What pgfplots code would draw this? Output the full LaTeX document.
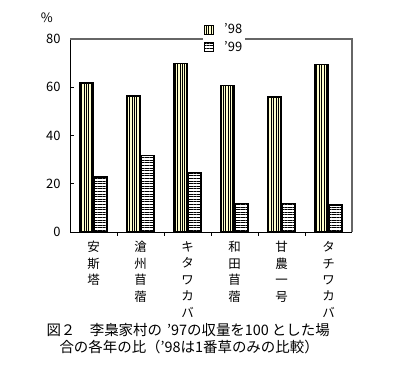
\documentclass[border=0pt]{standalone}
\usepackage{fontspec}
\setmainfont{Noto Sans CJK JP}
\usepackage{pgfplots}
\pgfplotsset{compat=1.18}
\usetikzlibrary{patterns.meta}
\definecolor{cream}{HTML}{FFFFCC}
\begin{document}
\begin{tikzpicture}
\useasboundingbox (0,0) rectangle (401bp,376bp);
\begin{axis}[
  at={(70bp,144bp)}, anchor=south west,
  scale only axis, width=282bp, height=193bp,
  xmin=0.5, xmax=6.5, ymin=0, ymax=80,
  ytick={0,20,40,60,80},
  xtick={1,...,6},
  xticklabels={{安\\斯\\塔},{滄\\州\\苜\\蓿},{キ\\タ\\ワ\\カ\\バ},{和\\田\\苜\\蓿},{甘\\農\\一\\号},{タ\\チ\\ワ\\カ\\バ}},
  xticklabel style={align=center, anchor=north, font=\fontsize{12.5}{16.5}\selectfont, yshift=-2bp},
  major x tick style={draw=none},
  minor xtick={1.5,2.5,...,5.5},
  minor tick length=4bp,
  major tick length=4bp,
  tick align=inside,
  yticklabel style={font=\fontsize{13}{15}\selectfont, xshift=-6bp},
  /pgf/number format/assume math mode=true,
  axis x line*=bottom, axis y line*=left,
  axis line style={line width=0.9bp, black},
  tick style={black, line width=0.8bp},
  ybar=1bp, bar width=13bp,
  ylabel={\%},
  ylabel style={rotate=-90, at={(rel axis cs:-0.082,1.109)}, anchor=center, font=\fontsize{13}{15}\selectfont},
  legend style={at={(rel axis cs:0.47,1.095)}, anchor=north west, draw=none, fill=white,
    font=\fontsize{13}{15}\selectfont, row sep=2bp, inner xsep=1bp, inner ysep=1bp,
    /tikz/every even column/.append style={column sep=4bp}},
  legend cell align=left,
  legend image code/.code={\draw[#1] (0bp,-4.5bp) rectangle (9bp,4.5bp);},
  clip=false,
]
\draw[gray!80!black, line width=1.3bp] (rel axis cs:0,1) -- (rel axis cs:1,1) -- (rel axis cs:1,0);
\addplot[fill=cream, draw=black, line width=1.2bp,
  postaction={pattern={Lines[angle=90,distance=2.4bp,line width=0.7bp]}}]
  coordinates {(1,61.8) (2,56.4) (3,70.0) (4,60.6) (5,56.0) (6,69.3)};
\addplot[fill=white, draw=black, line width=1.5bp,
  postaction={pattern={Lines[angle=0,distance=2.6bp,line width=0.8bp]}}]
  coordinates {(1,22.7) (2,31.8) (3,24.6) (4,11.9) (5,11.9) (6,11.1)};
\legend{\hspace{8bp}’98\hspace{2bp},\hspace{8bp}’99\hspace{2bp}}
\end{axis}
\node[anchor=west, font=\fontsize{14.5}{17}\selectfont] at (43bp,46bp) {図２　李梟家村の\hspace{5bp}’97の収量を100\hspace{3bp}とした場};
\node[anchor=west, font=\fontsize{14.5}{17}\selectfont] at (56bp,29bp) {合の各年の比（’98は1番草のみの比較）};
\end{tikzpicture}
\end{document}
